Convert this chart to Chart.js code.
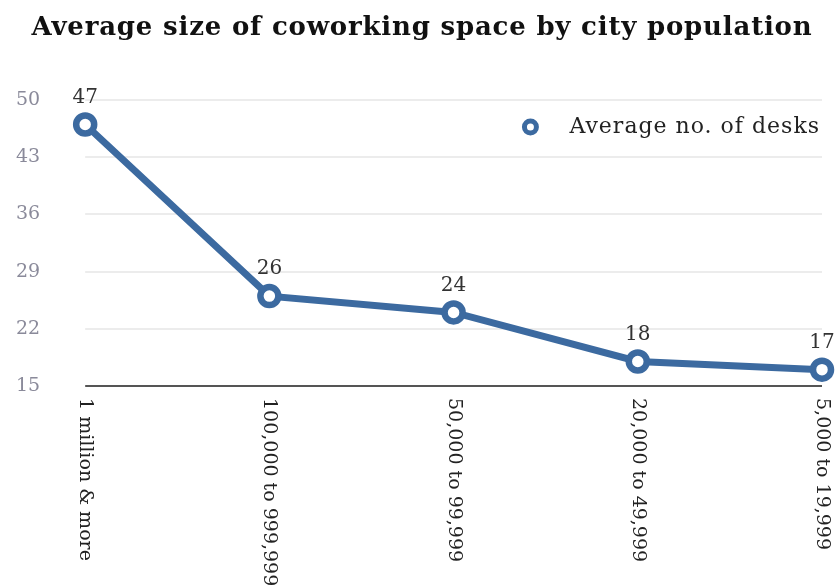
<!DOCTYPE html>
<html>
<head>
<meta charset="utf-8">
<script src="https://cdn.jsdelivr.net/npm/chart.js@4.4.0/dist/chart.umd.min.js"></script>
<style>
  html, body { margin: 0; padding: 0; background: #fff; }
  #wrap { width: 840px; height: 587px; position: relative; }
</style>
</head>
<body>
<div id="wrap"><canvas id="myChart"></canvas></div>
<script>
// data
var chartTitle = "Average size of coworking space by city population";
var seriesName = "Average no. of desks";
var categories = ["1 million & more", "100,000 to 999,999", "50,000 to 99,999", "20,000 to 49,999", "5,000 to 19,999"];
var desks = [47, 26, 24, 18, 17];
var yTicks = [15, 22, 29, 36, 43, 50];

var blue = "#3c6aa0";
var fontFam = "'DejaVu Serif', serif";

// horizontal rules, only across the plot area
var rules = {
  id: "rules",
  beforeDatasetsDraw: function(chart) {
    var ctx = chart.ctx;
    var ys = chart.scales.y;
    var xs = chart.scales.x;
    ctx.save();
    ctx.lineWidth = 2;
    yTicks.forEach(function(v) {
      var y = Math.round(ys.getPixelForValue(v));
      ctx.strokeStyle = v === 15 ? "#555" : "#ececec";
      ctx.beginPath();
      ctx.moveTo(xs.getPixelForValue(0), y);
      ctx.lineTo(xs.getPixelForValue(categories.length - 1), y);
      ctx.stroke();
    });
    ctx.restore();
  }
};

// title, legend and the numbers above the points
var extras = {
  id: "extras",
  afterDatasetsDraw: function(chart) {
    var ctx = chart.ctx;
    var meta = chart.getDatasetMeta(0);
    var area = chart.chartArea;
    ctx.save();
    ctx.font = "20px " + fontFam;
    ctx.fillStyle = "#333";
    ctx.textAlign = "center";
    ctx.textBaseline = "middle";
    meta.data.forEach(function(pt, i) {
      ctx.fillText(desks[i], pt.x, pt.y - 27);
    });

    // title
    ctx.letterSpacing = "0.8px";
    ctx.font = "bold 26px " + fontFam;
    ctx.fillStyle = "#111";
    ctx.fillText(chartTitle, 422, 28);

    // legend
    ctx.letterSpacing = "1px";
    ctx.font = "22px " + fontFam;
    ctx.fillStyle = "#222";
    ctx.textAlign = "right";
    ctx.fillText(seriesName, area.right - 2, area.top + 27);
    var w = ctx.measureText(seriesName).width;
    ctx.beginPath();
    ctx.arc(area.right - 2 - w - 39, area.top + 27, 6, 0, Math.PI * 2);
    ctx.fillStyle = "#fff";
    ctx.fill();
    ctx.lineWidth = 5;
    ctx.strokeStyle = blue;
    ctx.stroke();
    ctx.restore();
  }
};

// x labels turned clockwise, reading downwards
var downLabels = {
  id: "downLabels",
  afterDraw: function(chart) {
    var ctx = chart.ctx;
    var xs = chart.scales.x;
    var top = chart.chartArea.bottom + 12;
    ctx.save();
    ctx.font = "19px " + fontFam;
    ctx.fillStyle = "#222";
    ctx.textAlign = "left";
    ctx.textBaseline = "middle";
    categories.forEach(function(c, i) {
      ctx.save();
      ctx.translate(xs.getPixelForValue(i), top);
      ctx.rotate(Math.PI / 2);
      ctx.fillText(c, 0, 0);
      ctx.restore();
    });
    ctx.restore();
  }
};

var ctx = document.getElementById("myChart").getContext("2d");

window.chart = new Chart(ctx, {
  type: "line",
  data: {
    labels: categories,
    datasets: [{
      label: seriesName,
      data: desks,
      borderColor: blue,
      backgroundColor: "#fff",
      borderWidth: 7,
      pointRadius: 9,
      pointBorderWidth: 6.5,
      pointBackgroundColor: "#fff",
      pointBorderColor: blue,
      pointHoverRadius: 9,
      clip: false,
      tension: 0
    }]
  },
  options: {
    responsive: true,
    maintainAspectRatio: false,
    animation: false,
    layout: {
      padding: { left: -21, right: 18, top: 100, bottom: 193 }
    },
    plugins: {
      title: { display: false },
      legend: { display: false },
      tooltip: { enabled: false }
    },
    scales: {
      x: {
        offset: false,
        ticks: { display: false },
        grid: { display: false },
        border: { display: false }
      },
      y: {
        min: 15,
        max: 50,
        afterBuildTicks: function(scale) {
          scale.ticks = yTicks.map(function(v) { return { value: v }; });
        },
        ticks: {
          padding: 37,
          color: "#8a8a9a",
          font: { family: fontFam, size: 19 }
        },
        grid: { display: false },
        border: { display: false }
      }
    }
  },
  plugins: [rules, extras, downLabels]
});
</script>
</body>
</html>
